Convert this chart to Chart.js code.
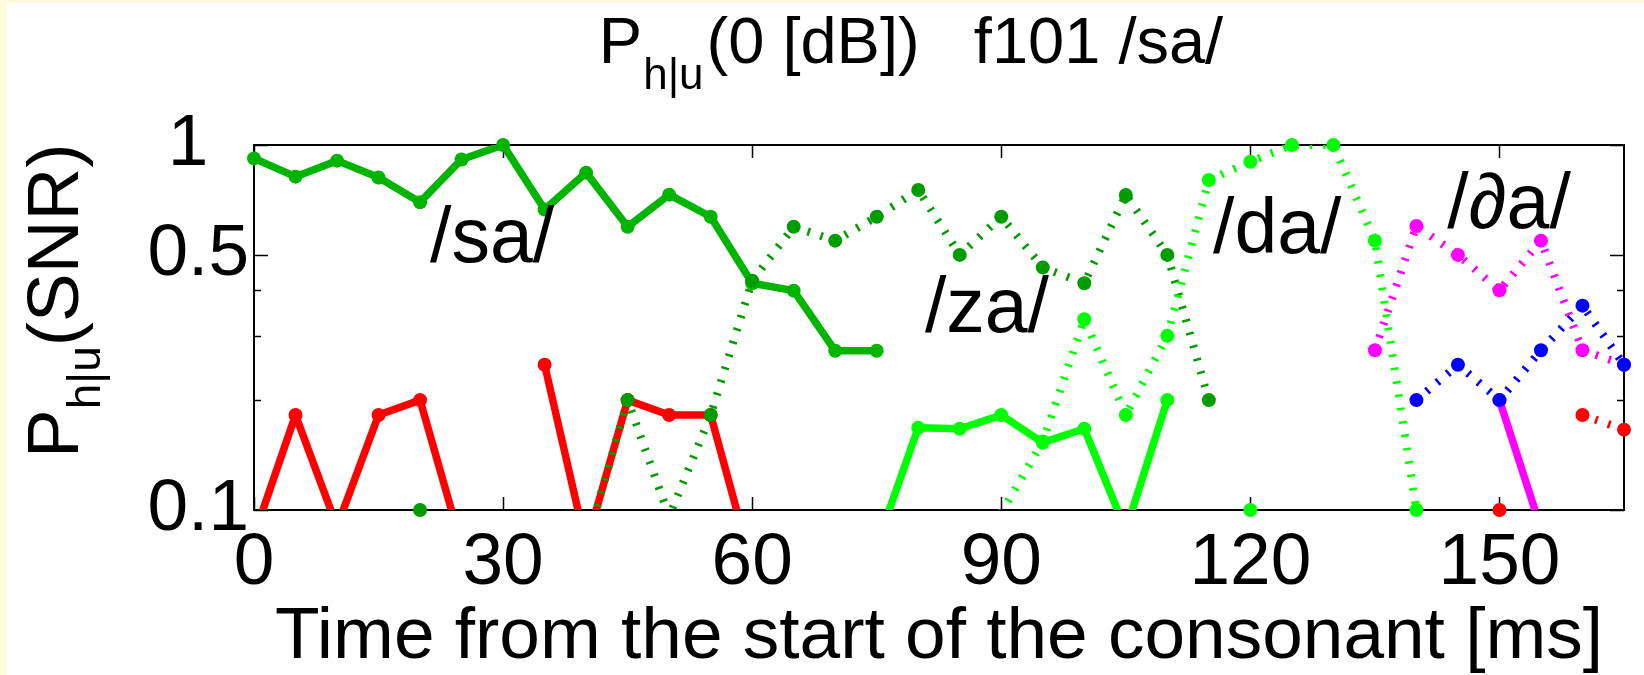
<!DOCTYPE html>
<html>
<head>
<meta charset="utf-8">
<script src="https://cdn.jsdelivr.net/npm/chart.js@4.4.1/dist/chart.umd.min.js"></script>
<style>
  html, body { margin: 0; padding: 0; background: #fffadc; }
  body { width: 1644px; height: 675px; overflow: hidden; position: relative; }
  #wrap { position: absolute; left: 7px; top: 3px; width: 1637px; height: 672px; background: #fff; }
</style>
</head>
<body>
<div id="wrap"><canvas id="chart" width="1637" height="672"></canvas></div>
<script>
// time from the start of the consonant [ms]
const times = [0, 5, 10, 15, 20, 25, 30, 35, 40, 45, 50, 55, 60, 65, 70, 75, 80,
  85, 90, 95, 100, 105, 110, 115, 120, 125, 130, 135, 140, 145, 150, 155, 160, 165];

// P_h|u per response (null = not plotted)
const saSolid = [0.919, 0.819, 0.906, 0.815, 0.697, 0.913, 1.0, 0.666, 0.84, 0.597, 0.731, 0.636,
  0.418, 0.399, 0.273, 0.273, null, null, null, null, null, null, null, null, null, null, null,
  null, null, null, null, null, null, null];
const redSolid = [0.085, 0.182, 0.09, 0.182, 0.2, 0.08, null, 0.25, 0.08, 0.2, 0.182, 0.182,
  0.07, null, null, null, null, null, null, null, null, null, null, null, null, null, null,
  null, null, null, null, null, null, null];
const zaDotted = [null, null, null, null, 0.1, null, null, null, 0.08, 0.2, 0.096, 0.182,
  0.425, 0.597, 0.547, 0.636, 0.753, 0.5, 0.636, 0.462, 0.418, 0.73, 0.5, 0.2, null, null,
  null, null, null, null, null, null, null, null];
const daDotted = [null, null, null, null, null, null, null, null, null, null, null, null,
  null, null, null, null, null, null, 0.098, 0.154, 0.333, 0.182, 0.3, 0.802, 0.9, 1.0, 1.0,
  0.547, 0.1, null, null, null, null, null];
const daSolid = [null, null, null, null, null, null, null, null, null, null, null, null,
  null, null, null, 0.08, 0.168, 0.167, 0.182, 0.153, 0.167, 0.088, 0.2, null, 0.1, null,
  null, null, null, null, null, null, null, null];
const thaDotted = [null, null, null, null, null, null, null, null, null, null, null, null,
  null, null, null, null, null, null, null, null, null, null, null, null, null, null, null,
  0.274, 0.6, 0.5, 0.4, 0.547, 0.274, 0.25];
const thaSolid = [null, null, null, null, null, null, null, null, null, null, null, null,
  null, null, null, null, null, null, null, null, null, null, null, null, null, null, null,
  null, null, null, 0.2, 0.089, null, null];
const blueDotted = [null, null, null, null, null, null, null, null, null, null, null, null,
  null, null, null, null, null, null, null, null, null, null, null, null, null, null, null,
  null, 0.2, 0.25, 0.2, 0.274, 0.363, 0.25];
const redDotted = [null, null, null, null, null, null, null, null, null, null, null, null,
  null, null, null, null, null, null, null, null, null, null, null, null, null, null, null,
  null, null, null, 0.1, null, 0.182, 0.166];

const xTicks = [0, 30, 60, 90, 120, 150];
const yTicks = [0.1, 0.2, 0.3, 0.4, 0.5, 1];
const yTickLabels = ['0.1', '', '', '', '0.5', '1  '];
const yMajor = [0.1, 0.5, 1];

const Y_MIN = 0.1, Y_MAX = 1, X_MIN = 0, X_MAX = 165;
const FONT = '"Liberation Sans", Arial, Helvetica, sans-serif';

// word labels placed in data coordinates (ms, P)
const wordLabels = [
  { text: '/sa/', x: 21.2, y: 0.478 },
  { text: '/za/', x: 80.8, y: 0.307 },
  { text: '/da/', x: 115.5, y: 0.506 },
  { text: '/\u2202a/', x: 143.7, y: 0.592 }
];

const series = [
  { values: saSolid, color: '#00b400', dotted: false },
  { values: redSolid, color: '#ff0000', dotted: false },
  { values: zaDotted, color: '#009c00', dotted: true },
  { values: daDotted, color: '#00ff00', dotted: true },
  { values: daSolid, color: '#00ff00', dotted: false },
  { values: thaDotted, color: '#ff00ff', dotted: true },
  { values: thaSolid, color: '#ff00ff', dotted: false },
  { values: blueDotted, color: '#0000ff', dotted: true },
  { values: redDotted, color: '#ff0000', dotted: true }
];

function toPoints(values) {
  return times.map((t, i) => ({ x: t, y: values[i] }));
}

const datasets = [];
series.forEach((s, i) => {
  const data = toPoints(s.values);
  datasets.push({
    data,
    borderColor: s.color,
    borderWidth: s.dotted ? 8 : 7.5,
    borderDash: s.dotted ? [2.5, 11] : [],
    borderCapStyle: 'butt',
    borderJoinStyle: 'round',
    pointRadius: 0,
    pointHoverRadius: 0,
    spanGaps: false,
    clip: 0,
    order: 100 - 2 * i
  });
  datasets.push({
    data,
    showLine: false,
    pointRadius: ctx => (ctx.raw && ctx.raw.y != null && ctx.raw.y >= Y_MIN ? 7 : 0),
    pointBackgroundColor: s.color,
    pointBorderWidth: 0,
    clip: false,
    order: 99 - 2 * i
  });
});

const decor = {
  id: 'decor',
  beforeDatasetsDraw(chart) {
    const { ctx, chartArea: a, scales: { x, y } } = chart;
    ctx.save();
    ctx.strokeStyle = '#000';
    ctx.lineWidth = 1.5;
    xTicks.forEach(v => {
      const px = Math.round(x.getPixelForValue(v)) + 0.5;
      ctx.beginPath();
      ctx.moveTo(px, a.bottom); ctx.lineTo(px, a.bottom - 13);
      ctx.moveTo(px, a.top); ctx.lineTo(px, a.top + 13);
      ctx.stroke();
    });
    yTicks.forEach(v => {
      const py = Math.round(y.getPixelForValue(v)) + 0.5;
      const len = yMajor.includes(v) ? 14 : 7;
      ctx.beginPath();
      ctx.moveTo(a.left, py); ctx.lineTo(a.left + len, py);
      ctx.moveTo(a.right, py); ctx.lineTo(a.right - len, py);
      ctx.stroke();
    });
    ctx.lineWidth = 2;
    ctx.strokeRect(a.left, a.top, a.right - a.left, a.bottom - a.top);
    ctx.restore();
  },
  afterDraw(chart) {
    const { ctx, chartArea: a, scales: { x, y } } = chart;
    ctx.save();
    ctx.fillStyle = '#000';
    ctx.textBaseline = 'alphabetic';
    ctx.textAlign = 'left';

    // title  P_{h|u}(0 [dB])   f101 /sa/
    const big = '65px ' + FONT, small = '44px ' + FONT;
    const rest = '(0 [dB])   f101 /sa/';
    ctx.font = big; const wP = ctx.measureText('P').width; const wR = ctx.measureText(rest).width;
    ctx.font = small; const wS = ctx.measureText('h|u').width + 4;
    let tx = 904 - (wP + wS + wR) / 2;
    const ty = 60;
    ctx.font = big; ctx.fillText('P', tx, ty);
    ctx.font = small; ctx.fillText('h|u', tx + wP + 1, ty + 26);
    ctx.font = big; ctx.fillText(rest, tx + wP + wS, ty);

    // x axis title
    ctx.font = '73px ' + FONT;
    ctx.textAlign = 'center';
    ctx.fillText('Time from the start of the consonant [ms]', (a.left + a.right) / 2, 655);

    // y axis title  P_{h|u}(SNR)
    ctx.save();
    ctx.translate(71, 455);
    ctx.rotate(-Math.PI / 2);
    ctx.textAlign = 'left';
    ctx.font = '73px ' + FONT; const yP = ctx.measureText('P').width;
    ctx.fillText('P', 0, 0);
    ctx.font = '46px ' + FONT; const yS = ctx.measureText('h|u').width;
    ctx.fillText('h|u', yP, 22);
    ctx.font = '73px ' + FONT;
    ctx.fillText('(SNR)', yP + yS, 0);
    ctx.restore();

    // response labels
    ctx.font = '77px ' + FONT;
    ctx.textAlign = 'left';
    wordLabels.forEach(l => {
      ctx.fillText(l.text, x.getPixelForValue(l.x), y.getPixelForValue(l.y));
    });
    ctx.restore();
  }
};

Chart.defaults.font.family = FONT;
Chart.defaults.color = '#000';

new Chart(document.getElementById('chart'), {
  type: 'line',
  data: { datasets },
  options: {
    responsive: false,
    animation: false,
    events: [],
    layout: { padding: { left: 0, top: 142, right: 20, bottom: 0 } },
    plugins: { legend: { display: false }, title: { display: false }, tooltip: { enabled: false } },
    scales: {
      x: {
        type: 'linear', min: X_MIN, max: X_MAX,
        afterBuildTicks: s => { s.ticks = xTicks.map(v => ({ value: v })); },
        afterFit: s => { s.height = 165; },
        grid: { display: false, drawTicks: false },
        border: { display: false },
        ticks: { font: { size: 73 }, color: '#000', padding: 10, maxRotation: 0, autoSkip: false,
          callback: v => String(v) }
      },
      y: {
        type: 'logarithmic', min: Y_MIN, max: Y_MAX,
        afterBuildTicks: s => { s.ticks = yTicks.map(v => ({ value: v })); },
        afterFit: s => { s.width = 247; },
        grid: { display: false, drawTicks: false },
        border: { display: false },
        ticks: { font: { size: 73 }, color: '#000', padding: 5, autoSkip: false,
          callback: (v, i) => yTickLabels[i] }
      }
    }
  },
  plugins: [decor]
});
</script>
</body>
</html>
